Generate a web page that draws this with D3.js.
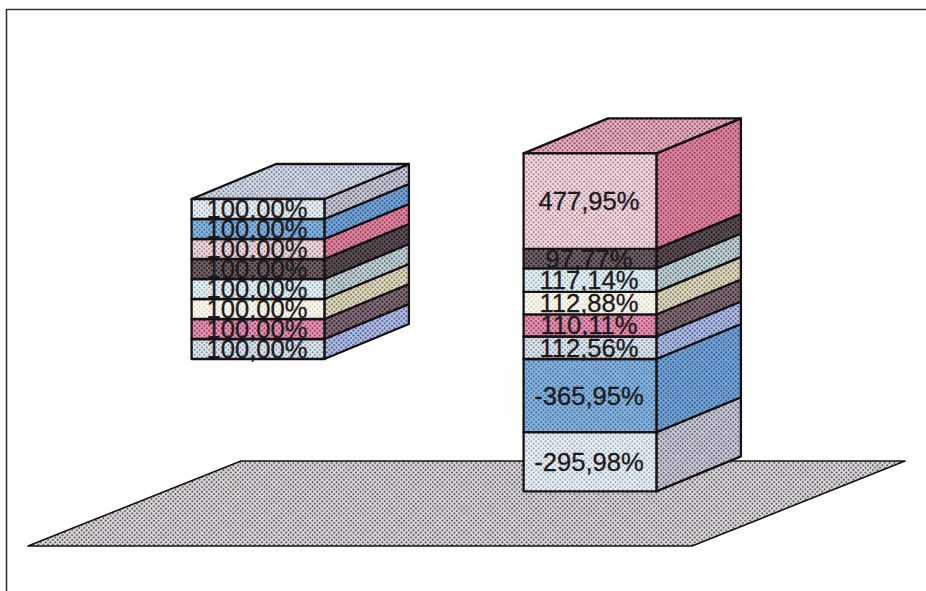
<!DOCTYPE html>
<html>
<head>
<meta charset="utf-8">
<script src="https://cdnjs.cloudflare.com/ajax/libs/d3/7.8.5/d3.min.js"></script>
<style>
  html, body { margin: 0; padding: 0; background: #fff; }
  svg { display: block; }
  text { font-family: "Liberation Sans", Arial, sans-serif; }
</style>
</head>
<body>
<svg id="chart" width="926" height="591"></svg>
<script>
// Stacked 3D columns: every index starts at 100% in the first column.
const categories = ["Periodo base", "Periodo corrente"];
const seriesNames = ["s1", "s2", "s3", "s4", "s5", "s6", "s7", "s8"];
const baseValues = [100, 100, 100, 100, 100, 100, 100, 100];
const currentValues = [112.56, 110.11, 112.88, 117.14, 97.77, 477.95, -365.95, -295.98];

// Halftone inks: paper tone plus dot tone for the front and side faces.
const frontPaper = ["#e4e9ef", "#e09ab4", "#fdfbf2", "#eaf4f6", "#74656c", "#f0dfe2", "#8eb6dc", "#eef3f6"];
const frontDot   = ["#8494aa", "#a33c68", "#d5d2bb", "#96b2bf", "#241b1f", "#ad7e8d", "#3a72aa", "#9aabb9"];
const sidePaper  = ["#b4c0e4", "#85707c", "#e2dcc4", "#c6d6da", "#5f5158", "#dc8aa2", "#7ca6d4", "#cccdd8"];
const sideDot    = ["#4f6196", "#2e2228", "#857d62", "#5f7278", "#1f171b", "#9c3a57", "#2a5f9a", "#66677b"];
const topPaper   = ["#d6dde8", "#e2b4c2"];
const topDot     = ["#76819a", "#974a63"];
const floorPaper = "#dedbde";
const floorDot   = "#625e64";

const rows = categories.map((c, i) => {
  const row = { category: c };
  seriesNames.forEach((s, j) => { row[s] = (i === 0 ? baseValues : currentValues)[j]; });
  return row;
});

const svg = d3.select("#chart");
const defs = svg.append("defs");

// Each halftone is a small diagonal dot cell.
function halftone(id, paper, dot) {
  const p = defs.append("pattern")
    .attr("id", id).attr("width", 3.4).attr("height", 3.4)
    .attr("patternUnits", "userSpaceOnUse")
    .attr("patternTransform", "rotate(45)");
  p.append("rect").attr("width", 3.4).attr("height", 3.4).attr("fill", paper);
  p.append("rect").attr("width", 1.9).attr("height", 1.9).attr("fill", dot);
}
seriesNames.forEach((s, i) => {
  halftone("front-" + s, frontPaper[i], frontDot[i]);
  halftone("side-" + s, sidePaper[i], sideDot[i]);
});
categories.forEach((c, i) => halftone("top-" + i, topPaper[i], topDot[i]));
halftone("floor", floorPaper, floorDot);

const x = d3.scaleBand().domain(categories).range([92, 756]).paddingInner(0.6).paddingOuter(0.3);
const y = d3.scaleLinear().domain([-800, 1200]).range([519, 119]);

const barDepth = { dx: 84.5, dy: -35 };
const floorDepth = { dx: 213, dy: -85 };
const floorFront = { x0: 28, x1: 692, y: y(-800) + 27 };

const ink = "#161214";
const outline = (sel, w) => sel.attr("stroke", ink).attr("stroke-width", w).attr("stroke-linejoin", "round");
const poly = pts => pts.map(p => p.join(",")).join(" ");

// Outer frame, open on the right and at the bottom.
svg.append("path")
  .attr("d", d3.line()([[6.5, 591], [6.5, 9.5], [926, 9.5]]))
  .attr("fill", "none").attr("stroke", "#333").attr("stroke-width", 1.6);

// Floor plane at the axis minimum.
svg.append("polygon")
  .attr("points", poly([
    [floorFront.x0, floorFront.y],
    [floorFront.x1, floorFront.y],
    [floorFront.x1 + floorDepth.dx, floorFront.y + floorDepth.dy],
    [floorFront.x0 + floorDepth.dx, floorFront.y + floorDepth.dy]
  ]))
  .attr("fill", "url(#floor)")
  .call(outline, 1.6);

const stacked = d3.stack()
  .keys(seriesNames)
  .offset(d3.stackOffsetDiverging)(rows);

const label = v => (v < 0 ? "-" : "") + d3.format(".2f")(Math.abs(v)).replace(".", ",") + "%";

// Lay out every segment of every column.
const segments = [];
categories.forEach((c, ci) => {
  stacked.forEach((layer, si) => {
    const [a, b] = layer[ci];
    segments.push({
      ci, si, key: layer.key, value: rows[ci][layer.key],
      left: x(c), right: x(c) + x.bandwidth(),
      top: y(Math.max(a, b)), bottom: y(Math.min(a, b))
    });
  });
});

const bars = svg.selectAll("g.column").data(categories).join("g").attr("class", "column");

bars.each(function (c, ci) {
  const g = d3.select(this);
  const own = segments.filter(d => d.ci === ci).sort((p, q) => q.bottom - p.bottom);
  const highest = own[own.length - 1];

  g.selectAll("polygon.side").data(own).join("polygon")
    .attr("class", "side")
    .attr("points", d => poly([
      [d.right, d.bottom], [d.right + barDepth.dx, d.bottom + barDepth.dy],
      [d.right + barDepth.dx, d.top + barDepth.dy], [d.right, d.top]
    ]))
    .attr("fill", d => `url(#side-${d.key})`)
    .call(outline, 2.3);

  g.append("polygon")
    .attr("points", poly([
      [highest.left, highest.top], [highest.right, highest.top],
      [highest.right + barDepth.dx, highest.top + barDepth.dy],
      [highest.left + barDepth.dx, highest.top + barDepth.dy]
    ]))
    .attr("fill", `url(#top-${ci})`)
    .call(outline, 2.3);

  g.selectAll("rect.front").data(own).join("rect")
    .attr("class", "front")
    .attr("x", d => d.left).attr("y", d => d.top)
    .attr("width", d => d.right - d.left).attr("height", d => d.bottom - d.top)
    .attr("fill", d => `url(#front-${d.key})`)
    .call(outline, 2.3);

  g.selectAll("text").data(own).join("text")
    .attr("x", d => (d.left + d.right) / 2 - 1)
    .attr("y", d => (d.top + d.bottom) / 2 + 9)
    .attr("text-anchor", "middle")
    .attr("font-size", 25.6)
    .attr("fill", "#1c1a1c")
    .attr("stroke", "#1c1a1c")
    .attr("stroke-width", 0.3)
    .text(d => label(d.value));
});
</script>
</body>
</html>
